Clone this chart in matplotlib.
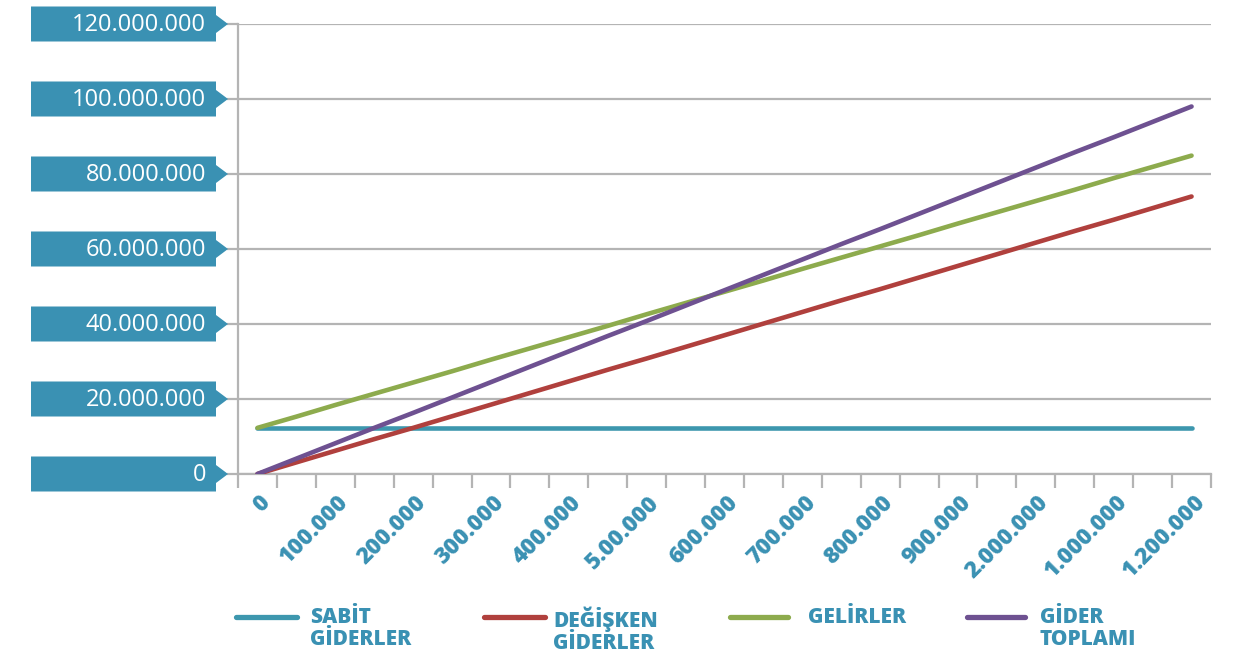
import matplotlib
matplotlib.use("Agg")
import matplotlib.pyplot as plt
from matplotlib.patches import Polygon
from matplotlib.lines import Line2D
from matplotlib import transforms

# values in millions, 25 categories (every other one labelled)
x_labels = ["0", "100.000", "200.000", "300.000", "400.000", "5.00.000", "600.000",
            "700.000", "800.000", "900.000", "2.000.000", "1.000.000", "1.200.000"]
y_ticks = [0, 20, 40, 60, 80, 100, 120]

sabit = [12.3, 12.3, 12.3, 12.3, 12.3, 12.3, 12.3, 12.3, 12.3, 12.3, 12.3, 12.3, 12.3,
         12.3, 12.3, 12.3, 12.3, 12.3, 12.3, 12.3, 12.3, 12.3, 12.3, 12.3, 12.3]
degisken = [0, 3.1, 6.2, 9.3, 12.3, 15.4, 18.5, 21.6, 24.7, 27.8, 30.8, 33.9, 37.0,
            40.1, 43.2, 46.3, 49.3, 52.4, 55.5, 58.6, 61.7, 64.8, 67.8, 70.9, 74.0]
gelirler = [12.3, 15.3, 18.4, 21.4, 24.4, 27.4, 30.5, 33.5, 36.5, 39.5, 42.6, 45.6, 48.6,
            51.6, 54.7, 57.7, 60.7, 63.7, 66.8, 69.8, 72.8, 75.8, 78.9, 81.9, 84.9]
toplam = [0, 4.1, 8.2, 12.3, 16.3, 20.4, 24.5, 28.6, 32.7, 36.8, 40.8, 44.9, 49.0,
          53.1, 57.2, 61.3, 65.3, 69.4, 73.5, 77.6, 81.7, 85.8, 89.8, 93.9, 98.0]

series = [
    ("SABİT\nGİDERLER", sabit, "#3d97ae"),
    ("DEĞİŞKEN\nGİDERLER", degisken, "#b0403d"),
    ("GELİRLER", gelirler, "#8dab4d"),
    ("GİDER\nTOPLAMI", toplam, "#6e5191"),
]

BLUE = "#3a91b3"
GRID = "#b4b4b4"
FONT = "Open Sans"
W, H = 1246, 657

fig = plt.figure(figsize=(W / 100, H / 100), dpi=100)
fig.patch.set_facecolor("white")
ax = fig.add_axes([238 / W, 1 - 474 / H, (1211 - 238) / W, 450 / H])
ax.set_facecolor("none")

x = list(range(len(sabit)))
for name, vals, col in series:
    ax.plot(x, vals, color=col, lw=3.3, solid_capstyle="round", zorder=3)

ax.set_xlim(-0.5, len(x) - 0.5)
ax.set_ylim(0, 120)

# tick marks on category boundaries, labels on every other category
ax.set_xticks([i - 0.5 for i in range(len(x) + 1)])
ax.set_xticklabels([])
ax.tick_params(axis="x", which="major", length=10, width=1.6, color=GRID)
ax.set_xticks(x[::2], minor=True)
ax.set_xticklabels(x_labels, minor=True, rotation=45, ha="right",
                   rotation_mode="anchor", fontsize=16.5, fontweight="heavy",
                   color=BLUE, family=FONT)
ax.tick_params(axis="x", which="minor", length=0, pad=12)
offset = transforms.ScaledTranslation(1 / 100, 0, fig.dpi_scale_trans)
for lab in ax.get_xticklabels(minor=True):
    lab.set_transform(lab.get_transform() + offset)

ax.set_yticks(y_ticks)
ax.set_yticklabels([])
ax.tick_params(axis="y", length=8, width=1.6, color=GRID)
ax.yaxis.grid(True, color=GRID, lw=1.6)
ax.set_axisbelow(True)
for s in ["top", "right"]:
    ax.spines[s].set_visible(False)
for s in ["left", "bottom"]:
    ax.spines[s].set_color(GRID)
    ax.spines[s].set_linewidth(1.6)

# y tick tags
for v in y_ticks:
    cy = H - ax.transData.transform((0, v))[1]
    pts = [(31, cy - 17.5), (216, cy - 17.5), (216, cy - 9), (228, cy),
           (216, cy + 9), (216, cy + 17.5), (31, cy + 17.5)]
    poly = Polygon([(px / W, 1 - py / H) for px, py in pts], closed=True,
                   transform=fig.transFigure, facecolor=BLUE, edgecolor="none")
    fig.patches.append(poly)
    label = f"{int(v * 1_000_000):,}".replace(",", ".")
    fig.text(206 / W, 1 - (cy + 1) / H, label, ha="right", va="center",
             color="white", fontsize=17, family=FONT)

# legend
handles = [(236, 297, 310), (484, 545, 553), (730, 788, 808), (967, 1025, 1040)]
for (x0, x1, tx), (name, vals, col) in zip(handles, series):
    fig.add_artist(Line2D([x0 / W, x1 / W], [1 - 617 / H, 1 - 617 / H],
                          transform=fig.transFigure, color=col, lw=3.8,
                          solid_capstyle="round"))
    fig.text(tx / W, 1 - 607 / H, name, ha="left", va="top", color=BLUE,
             fontsize=15, fontweight="heavy", family=FONT, linespacing=1.05)

fig.savefig("out.png", dpi=100, facecolor="white")
